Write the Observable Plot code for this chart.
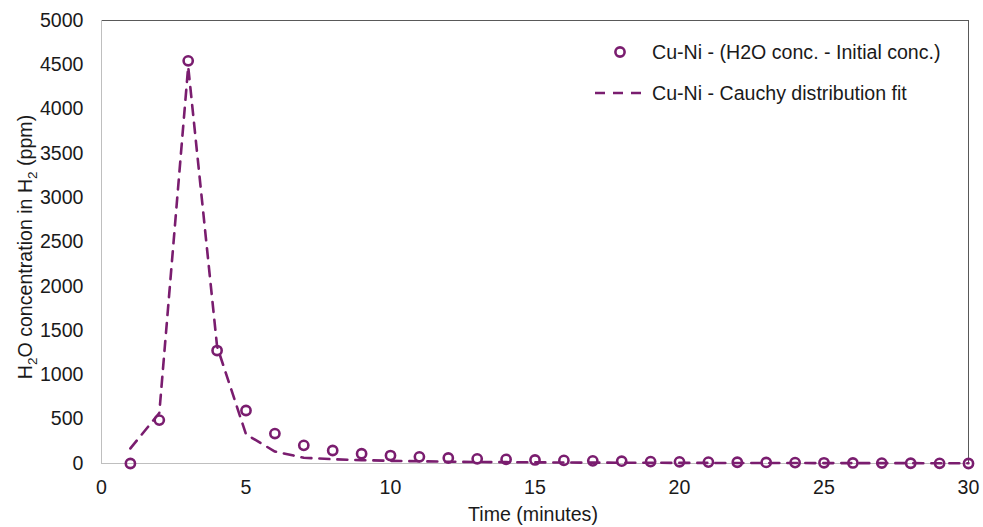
<!DOCTYPE html>
<html>
<head>
<meta charset="utf-8">
<script src="https://cdn.jsdelivr.net/npm/d3@7"></script>
<script src="https://cdn.jsdelivr.net/npm/@observablehq/plot@0.6"></script>
<style>
  html, body { margin: 0; padding: 0; background: #fff; }
</style>
</head>
<body>
<div id="chart"></div>
<script>
const minutes = [1,2,3,4,5,6,7,8,9,10,11,12,13,14,15,16,17,18,19,20,21,22,23,24,25,26,27,28,29,30];
const measured = [0,490,4545,1275,598,338,205,147,110,90,75,62,53,46,40,35,30,26,22,19,16,14,12,10,8,6,5,3,2,0];
const cauchyFit = [170,570,4480,1320,330,135,65,48,38,30,25,20,17,15,13,11,10,9,8,7,6.5,6,5.5,5,4.6,4.3,4,3.7,3.5,3.3];
const xTicks = [0,5,10,15,20,25,30];
const yTicks = [0,500,1000,1500,2000,2500,3000,3500,4000,4500,5000];
const seriesNames = ["Cu-Ni - (H2O conc. - Initial conc.)", "Cu-Ni - Cauchy distribution fit"];
const xTitle = "Time (minutes)";

const color = "#7a1d6f";
const font = "'Liberation Sans', Arial, sans-serif";
const fs = 19.6;

const pts = minutes.map((m, i) => ({m, v: measured[i]}));
const fit = minutes.map((m, i) => ({m, v: cauchyFit[i]}));

const svg = Plot.plot({
  width: 983,
  height: 527,
  marginLeft: 101,
  marginRight: 15,
  marginTop: 20,
  marginBottom: 64,
  style: {fontFamily: font, fontSize: fs + "px", color: "#1a1a1a", background: "#fff"},
  x: {domain: [0, 30]},
  y: {domain: [0, 5000]},
  marks: [
    Plot.axisX({ticks: xTicks, tickSize: 0, tickPadding: 17, label: null, tickFormat: d => String(d)}),
    Plot.axisY({ticks: yTicks, tickSize: 0, tickPadding: 18, label: null, tickFormat: d => String(d)}),
    Plot.ruleY([5000], {stroke: "#595959", strokeWidth: 1}),
    Plot.ruleX([30], {stroke: "#595959", strokeWidth: 1}),
    Plot.ruleX([0], {stroke: "#bfbfbf", strokeWidth: 1}),
    Plot.ruleY([0], {stroke: "#bfbfbf", strokeWidth: 1}),
    Plot.dot(pts, {x: "m", y: "v", r: 4.6, stroke: color, strokeWidth: 2.6, fill: "none"}),
    Plot.line(fit, {x: "m", y: "v", stroke: color, strokeWidth: 2.6, strokeDasharray: "10,8"})
  ]
});
document.getElementById("chart").appendChild(svg);

const s = d3.select(svg);
// x axis title
s.append("text")
  .attr("x", 533).attr("y", 521)
  .attr("text-anchor", "middle")
  .attr("fill", "#1a1a1a")
  .style("font-family", font).style("font-size", fs + "px")
  .text(xTitle);

// y axis title with subscripts
const yt = s.append("text")
  .attr("transform", "translate(32,247) rotate(-90)")
  .attr("text-anchor", "middle")
  .attr("fill", "#1a1a1a")
  .style("font-family", font).style("font-size", fs + "px");
yt.append("tspan").text("H");
yt.append("tspan").attr("dy", 5).style("font-size", "13.5px").text("2");
yt.append("tspan").attr("dy", -5).text("O concentration in H");
yt.append("tspan").attr("dy", 5).style("font-size", "13.5px").text("2");
yt.append("tspan").attr("dy", -5).text(" (ppm)");

// legend
const lg = s.append("g").style("font-family", font).style("font-size", fs + "px").attr("text-anchor", "start");
lg.append("circle").attr("cx", 620).attr("cy", 52).attr("r", 4.6)
  .attr("fill", "none").attr("stroke", color).attr("stroke-width", 2.6);
lg.append("text").attr("x", 652).attr("y", 52).attr("dy", "0.35em").attr("text-anchor", "start").attr("fill", "#1a1a1a").text(seriesNames[0]);
lg.append("line").attr("x1", 595).attr("x2", 642).attr("y1", 93).attr("y2", 93)
  .attr("stroke", color).attr("stroke-width", 2.6).attr("stroke-dasharray", "10,8");
lg.append("text").attr("x", 652).attr("y", 93).attr("dy", "0.35em").attr("text-anchor", "start").attr("fill", "#1a1a1a").text(seriesNames[1]);
</script>
</body>
</html>
